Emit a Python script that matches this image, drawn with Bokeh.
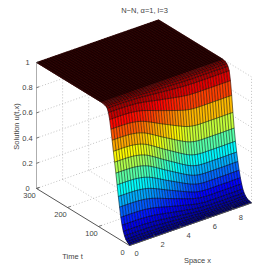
import numpy as np
from bokeh.plotting import figure
from bokeh.models import Range1d
from bokeh.core.properties import value
from bokeh.embed import file_html
from bokeh.resources import INLINE

title_text = "N\u2212N, \u03b1=1, l=3"
x_label = "Space x"
t_label = "Time t"
u_label = "Solution u(t,x)"
x_ticks = [0, 2, 4, 6, 8]
t_ticks = [0, 100, 200, 300]
u_ticks = [0, 0.2, 0.4, 0.6, 0.8, 1]
u_tick_labels = ["0", "0.2", "0.4", "0.6", "0.8", "1"]
x_max = 9.35
t_max = 300

# Time rows of the mesh: wide on the rising wall, dense on the plateau
t_rows = list(range(0, 92, 4)) + list(range(92, 302, 2))
# Mid-domain solution level at each time row
mid_level = [0, .006, .012, .02, .035, .055, .085, .125, .18, .24, .31, .385, .46, .54,
             .63, .73, .83, .91, .96, .98, .99, .995, .998] + [1.0] * 105
# Transverse variation across x, one value per column
x_wave = [.130, .130, .130, .130, .130, .129, .128, .126, .122, .118, .112, .104, .095,
          .083, .070, .057, .043, .029, .015, .002, -.011, -.024, -.037,
          -.050, -.063, -.076, -.088, -.100, -.110, -.118, -.124, -.128, -.130, -.131,
          -.131, -.131, -.131, -.131, -.131, -.131, -.131, -.131, -.130, -.130, -.130, -.130]

t_grid = np.array(t_rows, float)
x_grid = np.linspace(0, x_max, len(x_wave))
L = np.array(mid_level)[:, None]
W = np.array(x_wave)[None, :]
U = np.clip(L + W * 4 * L * (1 - L), 0, 1)


def proj(x, t, u):
    x, t, u = np.asarray(x, float), np.asarray(t, float), np.asarray(u, float)
    return 129 + 13.05 * x - 0.31 * t, 245 - 4.56 * x - 0.19 * t - 126 * u


def jet(v):
    anchors = [0, .125, .375, .625, .875, 1]
    r = np.interp(v, anchors, [0, 0, 0, 255, 255, 128])
    g = np.interp(v, anchors, [0, 0, 255, 255, 0, 0])
    b = np.interp(v, anchors, [143, 255, 255, 0, 0, 0])
    return "#%02x%02x%02x" % (int(r), int(g), int(b))


p = figure(width=269, height=269, x_range=Range1d(0, 269), y_range=Range1d(269, 0),
           output_backend="svg", toolbar_location=None, min_border=0, outline_line_color=None,
           x_axis_location=None, y_axis_location=None)
p.xgrid.visible = False
p.ygrid.visible = False
p.background_fill_color = "white"

# Grid on walls and floor
gx0, gy0, gx1, gy1 = [], [], [], []


def seg(a, b):
    xa, ya = proj(*a)
    xb, yb = proj(*b)
    gx0.append(float(xa)); gy0.append(float(ya)); gx1.append(float(xb)); gy1.append(float(yb))


for u in u_ticks:
    seg((0, t_max, u), (x_max, t_max, u))
    seg((x_max, t_max, u), (x_max, 0, u))
for x in x_ticks[1:]:
    seg((x, t_max, 0), (x, t_max, 1))
    seg((x, 0, 0), (x, t_max, 0))
for t in t_ticks[1:-1]:
    seg((x_max, t, 0), (x_max, t, 1))
    seg((0, t, 0), (x_max, t, 0))
seg((x_max, 0, 0), (x_max, 0, 1))
seg((x_max, t_max, 0), (x_max, t_max, 1))
p.segment(gx0, gy0, gx1, gy1, line_color="#b4b4b4", line_width=0.8, line_dash="1 2")

# Surface, back to front
xs, ys, cs = [], [], []
for j in range(len(t_grid) - 2, -1, -1):
    for i in range(len(x_grid) - 2, -1, -1):
        ix = [i, i + 1, i + 1, i]
        jx = [j, j, j + 1, j + 1]
        px, py = proj(x_grid[ix], t_grid[jx], U[jx, ix])
        xs.append(px.tolist())
        ys.append(py.tolist())
        cs.append(jet(U[jx, ix].mean()))
p.patches(xs, ys, fill_color=cs, line_color=cs, line_width=0.3)

col_x, col_y = [], []
for i in range(len(x_grid)):
    px, py = proj(np.full(len(t_grid), x_grid[i]), t_grid, U[:, i])
    col_x.append(px.tolist()); col_y.append(py.tolist())
p.multi_line(col_x, col_y, line_color="black", line_width=1.0, line_alpha=0.5)
row_x, row_y = [], []
for j in range(len(t_grid)):
    px, py = proj(x_grid, np.full(len(x_grid), t_grid[j]), U[j])
    row_x.append(px.tolist()); row_y.append(py.tolist())
p.multi_line(row_x, row_y, line_color="black", line_width=0.8, line_alpha=0.7)

# Axes
ax_col = "#555555"
lx, ly = proj([0, x_max], [0, 0], [0, 0])
p.line(lx, ly, line_color=ax_col, line_width=1)
lx, ly = proj([0, 0], [0, t_max], [0, 0])
p.line(lx, ly, line_color=ax_col, line_width=1)
lx, ly = proj([0, 0], [t_max, t_max], [0, 1])
p.line(lx, ly, line_color="#999999", line_width=0.8)

sx0, sy0, sx1, sy1 = [], [], [], []
for x in x_ticks[1:]:
    a = proj(x, 0, 0); b = proj(x, 8, 0)
    sx0.append(float(a[0])); sy0.append(float(a[1])); sx1.append(float(b[0])); sy1.append(float(b[1]))
for t in t_ticks[1:]:
    a = proj(0, t, 0); b = proj(0.25, t, 0)
    sx0.append(float(a[0])); sy0.append(float(a[1])); sx1.append(float(b[0])); sy1.append(float(b[1]))
for u in u_ticks:
    a = proj(0, t_max, u); b = proj(0.2, t_max, u)
    sx0.append(float(a[0])); sy0.append(float(a[1])); sx1.append(float(b[0])); sy1.append(float(b[1]))
p.segment(sx0, sy0, sx1, sy1, line_color=ax_col, line_width=0.8)

font = value("Liberation Sans")
txt = dict(text_font=font, text_font_size="7.5px", text_color="#444444",
           text_align="center", text_baseline="middle")

# Tick labels, placed relative to the axes
tx, ty = proj(x_ticks, [0] * 5, [0] * 5)
p.text(tx + 7, ty + 8, text=[str(v) for v in x_ticks], **txt)
tx, ty = proj([0] * 4, t_ticks, [0] * 4)
p.text(tx - 7, ty + 7, text=[str(v) for v in t_ticks], **txt)
tx, ty = proj([0] * 6, [t_max] * 6, u_ticks)
p.text(tx - 9, ty, text=u_tick_labels, **txt)

p.text([144], [10], text=[title_text], **txt)
p.text([197], [260], text=[x_label], **txt)
p.text([72], [256], text=[t_label], **txt)
p.text([16], [126], text=[u_label], angle=np.pi / 2, **txt)

open("out.html", "w").write(file_html(p, INLINE))
